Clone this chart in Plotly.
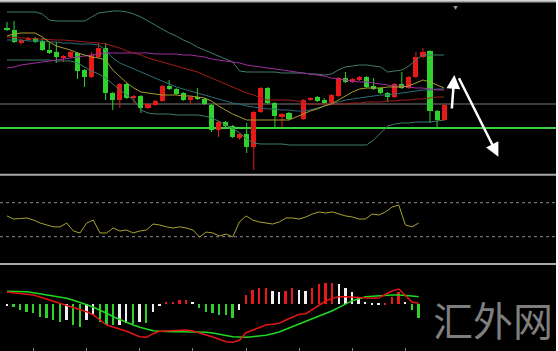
import plotly.graph_objects as go

W, H = 558, 351

# ---------------- data ----------------
idx = list(range(63))

opens = [1272,1270,1257,1260,1262,1259,1250,1248,1242,1243,1247,1230,1223,1243,1252,1207,1200,1216,1202,1204,
         1192,1195,1199,1214,1211,1207,1200,1203,1201,1195,1170,1178,1174,1162,1166,1153,1188,1212,1197,1183,
         1187,None,1181,1200,1203,1200,1197,1204,1222,1218,1220,1223,1214,1212,1207,1203,1216,1212,1223,1243,
         1249,1189,1180]
highs = [1278,1279,1261,1263,1263,1262,1257,1258,1245,1249,1248,1231,1248,1257,1257,1208,1217,1217,1205,1205,
         1197,1200,1215,1220,1212,1208,1204,1212,1202,1196,1179,1179,1175,1167,1177,1189,1213,1213,1198,1187,
         1188,None,1201,1203,1204,1202,1206,1223,1228,1222,1224,1224,1222,1213,1208,1217,1228,1224,1248,1252,
         1250,1190,1196]
lows = [1269,1257,1255,1259,1257,1249,1246,1237,1238,1242,1221,1213,1222,1242,1200,1190,1192,1201,1197,1187,
        1191,1194,1198,1210,1205,1199,1196,1200,1195,1168,1163,1173,1162,1160,1147,1130,1187,1196,1172,1173,
        1180,None,1180,1199,1198,1196,1196,1203,1217,1217,1219,1212,1210,1206,1198,1202,1211,1211,1222,1242,
        1177,1172,1179]
closes = [1270,1258,1260,1262,1258,1250,1247,1243,1244,1248,1229,1223,1245,1252,1207,1200,1216,1202,1204,1192,
          1196,1199,1214,1211,1206,1200,1203,1201,1196,1170,1178,1174,1163,1166,1153,1188,1212,1197,1184,1186,
          1181,None,1200,1202,1199,1197,1205,1222,1218,1221,1223,1213,1211,1207,1203,1216,1212,1223,1243,1248,
          1189,1180,1195]

bb_upper = [1288,1288,1288,1288,1288,1286,1280,1279,1279,1279,1279,1279,1283,1287,1288,1289,1289,1288,1286,1283,
            1279,1275,1271,1267,1264,1260,1257,1253,1250,1247,1244,1241,1238,1229,1228,1228,1228,1228,1228,1227,
            1227,1227,1227,1226,1226,1225,1226,1230,1233,1234,1235,1235,1234,1233,1228,1229,1230,1234,1240,1245,
            1245,1245,1245]
bb_lower = [1240,1240,1240,1240,1240,1240,1240,1239,1239,1239,1237,1233,1229,1226,1222,1216,1210,1205,1200,1190,
            1187,1186,1186,1186,1185,1185,1185,1185,1184,1182,1179,1175,1172,1167,1161,1157,1156,1156,1156,1156,
            1155,1155,1155,1155,1155,1155,1155,1155,1155,1155,1155,1155,1160,1167,1174,1176,1177,1177,1178,1178,
            1178,1179,1180]
ma_teal = [1260,1260,1260,1259,1259,1259,1258,1258,1257,1257,1256,1256,1256,1255,1250,1242,1237,1234,1231,1228,
           1225,1222,1219,1216,1213,1211,1209,1207,1205,1203,1201,1199,1197,1196,1194,1193,1192,1191,1191,1190,
           1190,1189,1189,1190,1192,1194,1196,1198,1200,1201,1202,1203,1204,1205,1205,1206,1207,1208,1209,1210,
           1210,1211,1211]
ma_olive = [1264,1266,1267,1267,1267,1263,1258,1254,1252,1250,1247,1245,1243,1242,1240,1230,1223,1217,1212,1208,
            1207,1206,1205,1205,1205,1204,1204,1203,1202,1199,1194,1190,1186,1183,1180,1180,1180,1180,1180,1180,
            1180,1183,1186,1189,1191,1194,1196,1200,1204,1208,1211,1212,1212,1212,1213,1213,1213,1214,1217,1220,
            1218,1215,1212]
ma_red = [1263,1262.5,1262,1261.5,1261,1261,1260.5,1260,1260,1259.5,1259,1258.5,1258,1257,1256,1254,1252,1249,1247,1245,
          1242,1240,1238,1236,1234,1232,1230,1228,1225,1222,1219,1216,1213,1210,1207,1205,1202,1200,1200,1200,
          1200,1199,1198,1196,1196,1196,1196,1196,1196,1197,1197,1198,1198,1198,1199,1199,1200,1200,1201,1201,
          1202,1203,1203]
ma_purple = [1232,1233,1235,1236,1237,1238,1239,1240,1241,1242,1243,1244,1245,1246,1247,1247,1247,1247,1247,1247,
             1247,1246,1246,1246,1246,1245,1245,1244,1243,1241,1240,1239,1238,1237,1235,1234,1233,1232,1231,1230,
             1229,1228,1227,1226,1225,1224,1222,1221,1220,1219,1218,1218,1217,1216,1215,1214,1214,1213,1212,1212,
             1211,1210,1210]

level_mid = 1196
level_support = 1172

rsi = [54.4,50.8,51.4,52.0,49.6,46.1,43.8,41.6,41.6,46.1,36.7,34.4,46.1,49.6,34.4,34.4,40.2,36.7,37.9,34.4,
       36.7,37.9,44.9,43.8,41.6,40.2,41.6,40.2,37.9,29.6,35.5,34.4,30.8,33.2,29.6,47.3,54.4,49.6,47.3,46.1,
       44.9,47.3,52.0,52.0,50.8,53.2,56.7,59.1,57.9,59.1,56.7,54.4,53.2,50.8,50.8,56.7,55.5,59.1,64.9,67.3,
       43.8,41.6,46.1]
rsi_levels = [70, 30]

macd_hist = [-0.10,-0.30,-0.57,-0.73,-0.90,-1.23,-1.40,-1.57,-1.73,-1.57,-2.07,-2.23,-1.57,-1.07,-1.73,-2.07,-2.10,-2.05,-1.90,-2.00,
             -1.80,-1.90,-0.73,-0.13,0.27,0.28,0.43,0.45,0.27,-0.40,-0.73,-0.90,-1.07,-1.10,-1.40,-0.57,0.93,1.43,1.60,1.63,
             1.37,1.27,1.37,1.60,1.43,1.37,1.60,2.03,2.10,2.17,2.03,1.60,1.27,0.60,0.27,0.10,0.07,0.17,0.77,1.27,
             0.27,-0.57,-1.40]
macd_line = [1.23,1.13,1.06,1.00,0.93,0.73,0.53,0.33,0.13,-0.07,-0.27,-0.47,-0.74,-1.07,-1.57,-2.07,-2.27,-2.47,-2.70,-2.97,
             -3.24,-3.30,-2.94,-2.70,-2.67,-2.64,-2.60,-2.57,-2.67,-2.90,-3.07,-3.27,-3.47,-3.74,-3.80,-3.60,-2.84,-2.57,-2.30,-2.07,
             -2.00,-1.90,-1.57,-1.27,-1.00,-0.94,-0.54,-0.14,0.33,0.60,0.76,0.76,0.73,0.63,0.60,0.60,0.66,1.00,1.33,1.53,
             0.90,0.23,0.10]
signal_line = [1.31,1.30,1.28,1.26,1.16,1.06,0.96,0.86,0.73,0.60,0.40,0.20,-0.04,-0.30,-0.57,-0.90,-1.24,-1.54,-1.80,-2.07,
               -2.30,-2.50,-2.65,-2.70,-2.74,-2.74,-2.74,-2.74,-2.74,-2.74,-2.80,-2.87,-3.00,-3.14,-3.24,-3.27,-3.30,-3.24,-3.17,-3.10,
               -2.94,-2.77,-2.50,-2.24,-1.97,-1.70,-1.44,-1.17,-0.90,-0.64,-0.30,0.03,0.36,0.56,0.76,0.80,0.86,0.93,0.93,0.93,
               0.90,0.83,0.76]

watermark = "汇外网"

# ---------------- styles ----------------
GREEN = "#2fd12f"
RED = "#e61a1a"
WHITE = "#f0f0f0"

fig = go.Figure()

# candles: bodies as bars, wicks as line segments
for color, is_up in ((GREEN, False), (RED, True)):
    bx, by, bb = [], [], []
    wx, wy = [], []
    for i, o, h, l, c in zip(idx, opens, highs, lows, closes):
        if o is None:
            continue
        if (c >= o) != is_up:
            continue
        lo, hi = min(o, c), max(o, c)
        bx.append(i)
        by.append(max(hi - lo, 1.2))
        bb.append(lo if hi - lo >= 1.2 else lo - 0.6)
        wx += [i, i, None]
        wy += [l, h, None]
    fig.add_trace(go.Scatter(x=wx, y=wy, mode="lines", line=dict(color=color, width=1),
                             xaxis="x", yaxis="y", hoverinfo="skip", showlegend=False))
    fig.add_trace(go.Bar(x=bx, y=by, base=bb, width=0.72, marker=dict(color=color, line=dict(width=0)),
                         xaxis="x", yaxis="y", showlegend=False))

line_specs = [
    (bb_upper, "#3f7d68", 1),
    (bb_lower, "#3f7d68", 1),
    (ma_teal, "#2d6d78", 1),
    (ma_purple, "#a02ca0", 1),
    (ma_red, "#a01c1c", 1),
    (ma_olive, "#aa9c2c", 1),
]
for series, color, width in line_specs:
    fig.add_trace(go.Scatter(x=idx, y=series, mode="lines", line=dict(color=color, width=width),
                             xaxis="x", yaxis="y", hoverinfo="skip", showlegend=False))

# RSI
fig.add_trace(go.Scatter(x=idx, y=rsi, mode="lines", line=dict(color="#a8a232", width=1),
                         xaxis="x2", yaxis="y2", showlegend=False))

# MACD histogram coloured by direction
hist_colors = []
for k, v in enumerate(macd_hist):
    prev = macd_hist[k - 1] if k > 0 else None
    if prev is None:
        hist_colors.append(WHITE)
    elif v > 0 and v >= prev:
        hist_colors.append(RED)
    elif v < 0 and v <= prev:
        hist_colors.append(GREEN)
    else:
        hist_colors.append(WHITE)
fig.add_trace(go.Bar(x=idx, y=macd_hist, width=0.28, marker=dict(color=hist_colors, line=dict(width=0)),
                     xaxis="x2", yaxis="y3", showlegend=False))
fig.add_trace(go.Scatter(x=idx, y=signal_line, mode="lines", line=dict(color="#1fd81f", width=1.5),
                         xaxis="x2", yaxis="y3", showlegend=False))
fig.add_trace(go.Scatter(x=idx, y=macd_line, mode="lines", line=dict(color="#e01515", width=1.5),
                         xaxis="x2", yaxis="y3", showlegend=False))

XR = 556 / W
def py(p):
    return 1 - p / H

shapes = [
    dict(type="rect", xref="paper", yref="paper", x0=0, x1=XR, y0=0, y1=py(1.5),
         fillcolor="#000000", line=dict(width=0), layer="below"),
    dict(type="line", xref="paper", yref="paper", x0=0, x1=XR, y0=py(1.6), y1=py(1.6),
         line=dict(color="#a8a8a8", width=2)),
    dict(type="line", xref="paper", yref="paper", x0=0, x1=XR, y0=py(174.8), y1=py(174.8),
         line=dict(color="#a8a8a8", width=2)),
    dict(type="line", xref="paper", yref="paper", x0=0, x1=XR, y0=py(264), y1=py(264),
         line=dict(color="#a8a8a8", width=2)),
    dict(type="line", xref="paper", yref="y", x0=0, x1=XR, y0=level_mid, y1=level_mid,
         line=dict(color="#7a7a7a", width=1), layer="below"),
    dict(type="line", xref="paper", yref="y", x0=0, x1=XR, y0=level_support, y1=level_support,
         line=dict(color="#3ad03a", width=2), layer="below"),
]
for lv in rsi_levels:
    shapes.append(dict(type="line", xref="paper", yref="y2", x0=0, x1=XR, y0=lv, y1=lv,
                       line=dict(color="#8a8a8a", width=1, dash="dot"), layer="below"))

annotations = [
    dict(x=63.45, y=1225, ax=63.08, ay=1190, xref="x", yref="y", axref="x", ayref="y",
         text="", showarrow=True, arrowhead=2, arrowsize=1.1, arrowwidth=2.5, arrowcolor="#ffffff"),
    dict(x=69.7, y=1143.3, ax=64.0, ay=1223.3, xref="x", yref="y", axref="x", ayref="y",
         text="", showarrow=True, arrowhead=2, arrowsize=1.1, arrowwidth=2.5, arrowcolor="#ffffff"),
    dict(x=493 / W, y=py(319), xref="paper", yref="paper", xanchor="center", yanchor="middle",
         text=watermark, showarrow=False,
         font=dict(family="Noto Sans CJK SC", size=40, color="rgba(150,150,150,0.85)")),
    dict(x=455 / W, y=py(1.5), xref="paper", yref="paper", xanchor="center", yanchor="top",
         text="▼", showarrow=False, font=dict(size=7, color="#9a9aa8")),
]

fig.update_layout(
    width=W, height=H, margin=dict(l=0, r=0, t=0, b=0),
    paper_bgcolor="#ffffff", plot_bgcolor="rgba(0,0,0,0)",
    barmode="overlay", bargap=0, showlegend=False,
    shapes=shapes, annotations=annotations,
    xaxis=dict(domain=[0, XR], range=[-0.993, 77.87], anchor="y", visible=False, fixedrange=True),
    xaxis2=dict(domain=[0, XR], range=[-1.054, 82.68], anchor="y3", showgrid=False, zeroline=False,
                showline=False, showticklabels=False, ticks="inside", ticklen=3, tickcolor="#808080",
                tickvals=[4, 12, 20, 28, 36, 44, 52, 60]),
    yaxis=dict(domain=[py(174), py(3)], range=[1126, 1297], visible=False, fixedrange=True),
    yaxis2=dict(domain=[py(263), py(176)], range=[-0.94, 101.41], anchor="x2", visible=False),
    yaxis3=dict(domain=[0, py(265)], range=[-4.67, 3.93], anchor="x2", visible=False),
)

fig.write_html("out.html")
